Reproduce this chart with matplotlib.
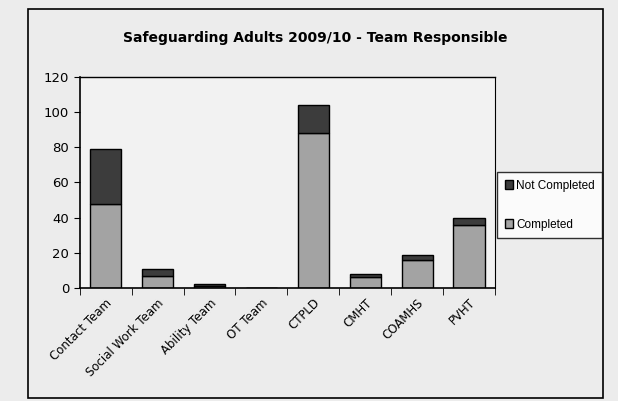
import numpy as np
from matplotlib import pyplot as plt
from matplotlib.patches import Rectangle

teams = ['Contact Team', 'Social Work Team', 'Ability Team', 'OT Team',
         'CTPLD', 'CMHT', 'COAMHS', 'PVHT']
completed = [48, 7, 1, 0, 88, 6, 16, 36]
not_completed = [31, 4, 1, 0, 16, 2, 3, 4]

fig = plt.figure(figsize=(6.18, 4.01), dpi=100, facecolor='#ececec')
ax = fig.add_axes([0.129, 0.282, 0.672, 0.526], facecolor='#f2f2f2')

x = np.arange(len(teams))
ax.bar(x, completed, width=0.6, color='#a3a3a3', edgecolor='black', linewidth=1.0, label='Completed')
ax.bar(x, not_completed, width=0.6, bottom=completed, color='#3c3c3c', edgecolor='black', linewidth=1.0, label='Not Completed')

ax.set_xlim(-0.5, len(teams) - 0.5)
ax.set_ylim(0, 120)
ax.set_yticks(np.arange(0, 121, 20))
ax.set_xticks(x)
ax.set_xticklabels(teams, rotation=45, ha='right', rotation_mode='anchor', fontsize=8.5)
ax.set_xticks(np.arange(-0.5, len(teams)), minor=True)
ax.tick_params(axis='x', which='major', length=0, pad=6)
ax.tick_params(axis='x', which='minor', length=5, direction='out')
ax.tick_params(axis='y', length=4, direction='out', labelsize=9.5)
ax.spines['left'].set_linewidth(1.2)
ax.spines['bottom'].set_linewidth(1.2)
ax.spines['top'].set_linewidth(1.0)
ax.spines['right'].set_linewidth(0.8)

h, l = ax.get_legend_handles_labels()
leg = fig.legend(h[::-1], l[::-1], loc='upper left', bbox_to_anchor=(0.805, 0.570),
                 prop={'family': 'Liberation Sans', 'size': 8.5},
                 frameon=True, fancybox=False, edgecolor='black',
                 handlelength=0.7, handleheight=0.7, labelspacing=2.3, borderpad=0.6,
                 handletextpad=0.3, borderaxespad=0)
leg.get_frame().set_facecolor('white')

fig.text(0.51, 0.905, 'Safeguarding Adults 2009/10 - Team Responsible',
         ha='center', va='center', fontsize=10, fontweight='bold')

fig.patches.append(Rectangle((0.045, 0.008), 0.930, 0.970, transform=fig.transFigure,
                             fill=False, edgecolor='black', linewidth=1.2))

fig.savefig('out.png', dpi=100, facecolor=fig.get_facecolor())
